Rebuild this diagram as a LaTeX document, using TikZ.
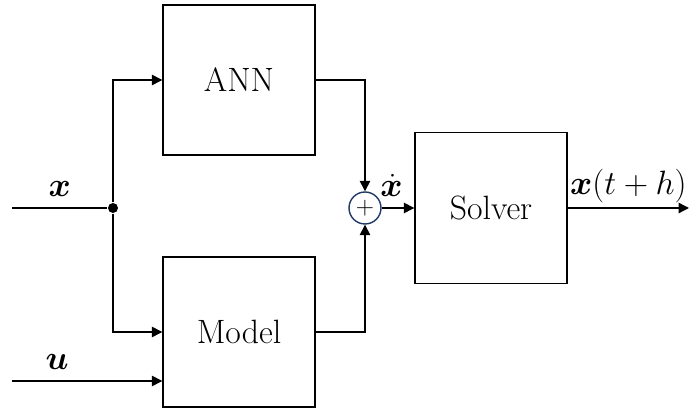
\RequirePackage{fix-cm}
\documentclass[tikz,border=0pt]{standalone}
\usepackage{amsmath,bm}
\usetikzlibrary{positioning,arrows.meta}
\definecolor{sumBlue}{HTML}{1F3864}

\begin{document}
\begin{tikzpicture}[font=\fontsize{24}{28}\selectfont, line width=1pt,
  >={Triangle[length=2.6mm,width=2.6mm]},
  block/.style={draw, minimum width=3.8cm, minimum height=3.75cm, inner sep=0pt}]
  \useasboundingbox (0,0) rectangle (17.225,10.225);
  \node[block] (ann) at (5.975,8.225) {ANN};
  \node[block] (model) at (5.975,1.925) {Model};
  \node[block, minimum height=3.775cm] (solver) at (12.275,5.025) {Solver};
  \node[circle, draw=sumBlue, minimum size=0.8cm, inner sep=0pt,
    font=\fontsize{18}{20}\selectfont] (sum) at (9.125,5.025) {$+$};
  \node[circle, fill, inner sep=0pt, minimum size=0.25cm] (branch) at (2.825,5.025) {};
  \coordinate (xin) at (0.3,5.025);
  \coordinate (uin) at (0.3,0.7);
  \coordinate (out) at (17.225,5.025);

  \draw (xin) -- node[above=4pt] {$\bm{x}$} (branch);
  \draw[->] (branch) |- (ann.west);
  \draw[->] (branch) |- (model.west);
  \draw[->] (uin) -- node[above=4pt, pos=0.3] {$\bm{u}$} (uin -| model.west);
  \draw[->] (ann.east) -| (sum.north);
  \draw[->] (model.east) -| (sum.south);
  \draw[->] (sum) -- node[above=4pt, pos=0.3] {$\dot{\bm{x}}$} (solver.west);
  \draw[->] (solver.east) -- node[above] {$\bm{x}(t+h)$} (out);
\end{tikzpicture}
\end{document}
